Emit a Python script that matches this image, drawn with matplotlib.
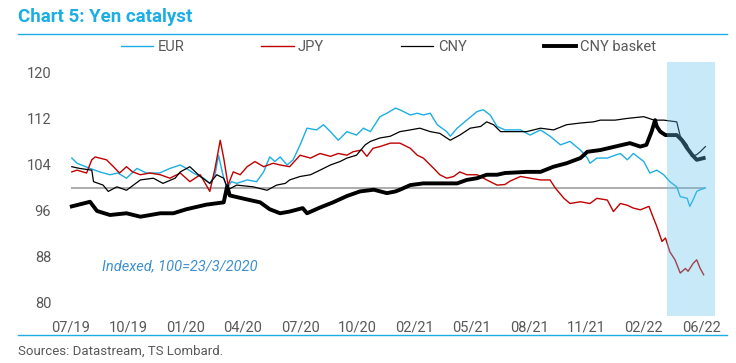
import numpy as np
import matplotlib
matplotlib.use("Agg")
import matplotlib.pyplot as plt

plt.rcParams['font.family'] = ['Roboto', 'DejaVu Sans']

# x values are trading-day positions (category axis, one tick every 66 days)
tick_pos = [0, 66, 132, 198, 264, 330, 396, 462, 528, 594, 660]
tick_labels = ['07/19', '10/19', '01/20', '04/20', '07/20', '10/20',
               '02/21', '05/21', '08/21', '11/21', '02/22', '06/22']
tick_pos = tick_pos + [726]

eur_x = [1, 7, 22, 33, 45, 54, 64, 76, 87, 102, 114, 126, 133, 141, 153, 160, 166, 170,
         176, 180, 185, 191, 203, 214, 222, 229, 235, 241, 249, 256, 264, 272, 283, 291,
         299, 308, 318, 329, 337, 345, 356, 364, 374, 379, 391, 399, 406, 414, 422, 433,
         437, 445, 456, 468, 475, 483, 491, 500, 506, 518, 529, 541, 552, 564, 575, 587,
         595, 598, 606, 618, 627, 633, 641, 648, 660, 667, 675, 683, 690, 698, 702, 710,
         713, 717, 721, 725, 731]
eur_y = [105.2, 104.3, 103.4, 102.8, 102.3, 102.6, 101.7, 103.4, 102.6, 102.6, 103.4, 104.0,
         103.4, 102.6, 101.7, 100.8, 102.3, 105.7, 101.7, 100.0, 101.1, 100.8, 101.4, 101.1,
         102.8, 105.4, 104.6, 105.4, 104.0, 104.9, 107.5, 110.4, 110.1, 111.0, 109.8, 108.3,
         109.8, 109.2, 110.4, 109.8, 112.4, 113.0, 113.9, 113.6, 112.7, 113.0, 112.7, 113.0,
         111.0, 109.8, 109.0, 110.4, 111.8, 113.3, 113.6, 112.7, 110.7, 110.1, 110.1, 110.1,
         109.2, 110.1, 109.0, 107.5, 108.1, 106.6, 105.2, 104.3, 105.2, 105.2, 105.7, 106.0,
         104.9, 106.0, 104.6, 102.6, 103.1, 102.3, 101.1, 100.2, 98.5, 98.2, 96.8, 98.0,
         99.4, 99.7, 100.0]

jpy_x = [1, 7, 18, 24, 28, 41, 49, 56, 64, 71, 80, 91, 103, 114, 126, 137, 149, 160, 166,
         172, 176, 181, 187, 195, 203, 212, 222, 233, 241, 252, 264, 276, 287, 299, 308,
         318, 325, 335, 341, 348, 356, 368, 379, 391, 399, 406, 418, 425, 433, 441, 448,
         456, 468, 479, 491, 500, 506, 518, 529, 541, 552, 558, 568, 575, 587, 598, 606,
         618, 625, 633, 641, 648, 656, 666, 669, 675, 681, 685, 690, 696, 702, 708, 711,
         717, 721, 725, 729]
jpy_y = [102.8, 103.1, 102.6, 104.9, 105.4, 104.9, 103.7, 102.6, 103.7, 102.8, 102.3, 102.6,
         102.3, 101.7, 102.6, 101.1, 102.3, 99.4, 103.4, 108.3, 105.2, 100.5, 102.8, 102.3,
         103.7, 104.6, 103.7, 104.3, 104.0, 103.7, 105.7, 105.2, 106.0, 105.5, 106.0, 105.7,
         106.3, 106.6, 105.5, 106.9, 107.2, 107.8, 107.8, 106.9, 105.7, 105.2, 103.4, 102.3,
         101.7, 102.0, 102.8, 102.3, 102.3, 101.4, 100.5, 100.6, 101.2, 102.0, 101.7, 101.4,
         101.4, 100.0, 98.2, 97.3, 97.6, 97.3, 98.2, 97.9, 95.9, 97.3, 97.0, 96.5, 96.2,
         96.8, 95.6, 93.3, 90.7, 91.3, 88.9, 87.5, 85.2, 86.0, 85.5, 86.9, 87.5, 86.0, 84.9]

cny_x = [1, 10, 24, 26, 37, 43, 53, 64, 80, 95, 106, 120, 126, 137, 149, 160, 168, 176,
         181, 191, 210, 226, 237, 247, 252, 264, 276, 287, 299, 310, 318, 329, 339, 345,
         356, 368, 379, 391, 402, 414, 425, 437, 448, 460, 472, 479, 487, 495, 510, 525,
         541, 556, 571, 587, 602, 610, 627, 641, 660, 672, 683, 698, 702, 710, 715, 721,
         725, 731]
cny_y = [103.7, 103.4, 103.1, 101.1, 100.5, 99.4, 100.2, 99.6, 101.4, 101.7, 100.8, 101.7,
         102.8, 103.7, 102.0, 100.8, 102.3, 101.7, 99.7, 100.5, 100.2, 99.6, 100.5, 100.8,
         101.4, 102.0, 102.3, 103.1, 104.0, 104.6, 105.2, 105.7, 107.5, 108.1, 108.7, 109.0,
         109.8, 110.1, 110.4, 109.8, 109.5, 108.3, 109.2, 110.4, 110.7, 111.5, 111.0, 109.8,
         109.8, 109.8, 110.4, 110.1, 111.0, 111.3, 111.5, 111.8, 111.8, 112.1, 112.4, 111.8,
         111.8, 111.5, 109.0, 107.5, 105.5, 105.8, 106.3, 107.2]

basket_x = [1, 22, 30, 45, 64, 80, 103, 118, 133, 156, 176, 180, 183, 203, 218, 229, 241,
            252, 267, 272, 287, 302, 318, 333, 349, 364, 374, 379, 391, 406, 433, 445, 456,
            468, 479, 491, 500, 525, 541, 556, 571, 587, 595, 610, 627, 644, 656, 663, 669,
            673, 675, 679, 685, 698, 704, 710, 716, 721, 729]
basket_y = [96.8, 97.6, 96.0, 95.3, 95.6, 95.0, 95.6, 95.6, 96.3, 97.1, 97.5, 100.3, 98.7,
            98.0, 97.5, 96.3, 95.6, 95.9, 96.5, 95.6, 96.6, 97.5, 98.6, 99.4, 99.7, 99.1,
            99.4, 99.7, 100.5, 100.8, 100.8, 100.8, 101.4, 101.7, 102.3, 102.3, 102.6, 102.8,
            102.8, 103.7, 104.3, 105.2, 106.3, 106.6, 107.2, 107.8, 107.2, 107.5, 109.8,
            111.8, 110.7, 109.8, 109.2, 109.2, 108.3, 106.9, 105.7, 104.9, 105.2]

base_level = 100
shade_start, shade_end = 687, 742

cyan = '#1CAEE4'
red = '#C00000'
grey_txt = '#595959'

fig = plt.figure(figsize=(7.36, 3.63), dpi=100)
ax = fig.add_axes([0.0846, 0.129, 0.8868, 0.700])

ax.hlines(base_level, 0, 731, color='#A6A6A6', lw=1.3, zorder=1)
ax.plot(eur_x, eur_y, color=cyan, lw=1.0, label='EUR', zorder=3)
ax.plot(jpy_x, jpy_y, color=red, lw=1.0, label='JPY', zorder=3)
ax.plot(cny_x, cny_y, color='black', lw=0.9, label='CNY', zorder=3)
ax.plot(basket_x, basket_y, color='black', lw=2.8, label='CNY basket', zorder=4)
ax.axvspan(shade_start, shade_end, color='#62C3EB', alpha=0.35, lw=0, zorder=5)

ax.set_xlim(-10, 742)
ax.set_ylim(77.7, 121.9)
ax.set_yticks([80, 88, 96, 104, 112, 120])
ax.set_xticks(tick_pos)
ax.set_xticklabels(tick_labels)
ax.tick_params(length=0, labelsize=10.5, labelcolor=grey_txt, pad=3)
ax.tick_params(axis='y', pad=8)
for s in ax.spines.values():
    s.set_visible(False)

ax.text(36, 86.3, 'Indexed, 100=23/3/2020', color='#3D8FD1', style='italic',
        fontsize=10.5, va='center', ha='left')

fig.legend(loc='center', bbox_to_anchor=(0.528, 0.8705), ncol=4, frameon=False,
           fontsize=10.5, handlelength=2.2, handletextpad=0.3, columnspacing=5.3,
           labelcolor=grey_txt)

fig.text(0.0245, 0.953, 'Chart 5: Yen catalyst', color=cyan, fontsize=13.5,
         fontweight='bold', va='center', ha='left')
fig.add_artist(plt.Line2D([0.0245, 0.988], [0.906, 0.906], color=cyan, lw=1.0))
fig.add_artist(plt.Line2D([0.0245, 0.988], [0.077, 0.077], color=cyan, lw=1.0))
fig.text(0.0245, 0.033, 'Sources: Datastream, TS Lombard.', color=grey_txt,
         fontsize=9.5, va='center', ha='left')

fig.savefig('out.png', dpi=100)
